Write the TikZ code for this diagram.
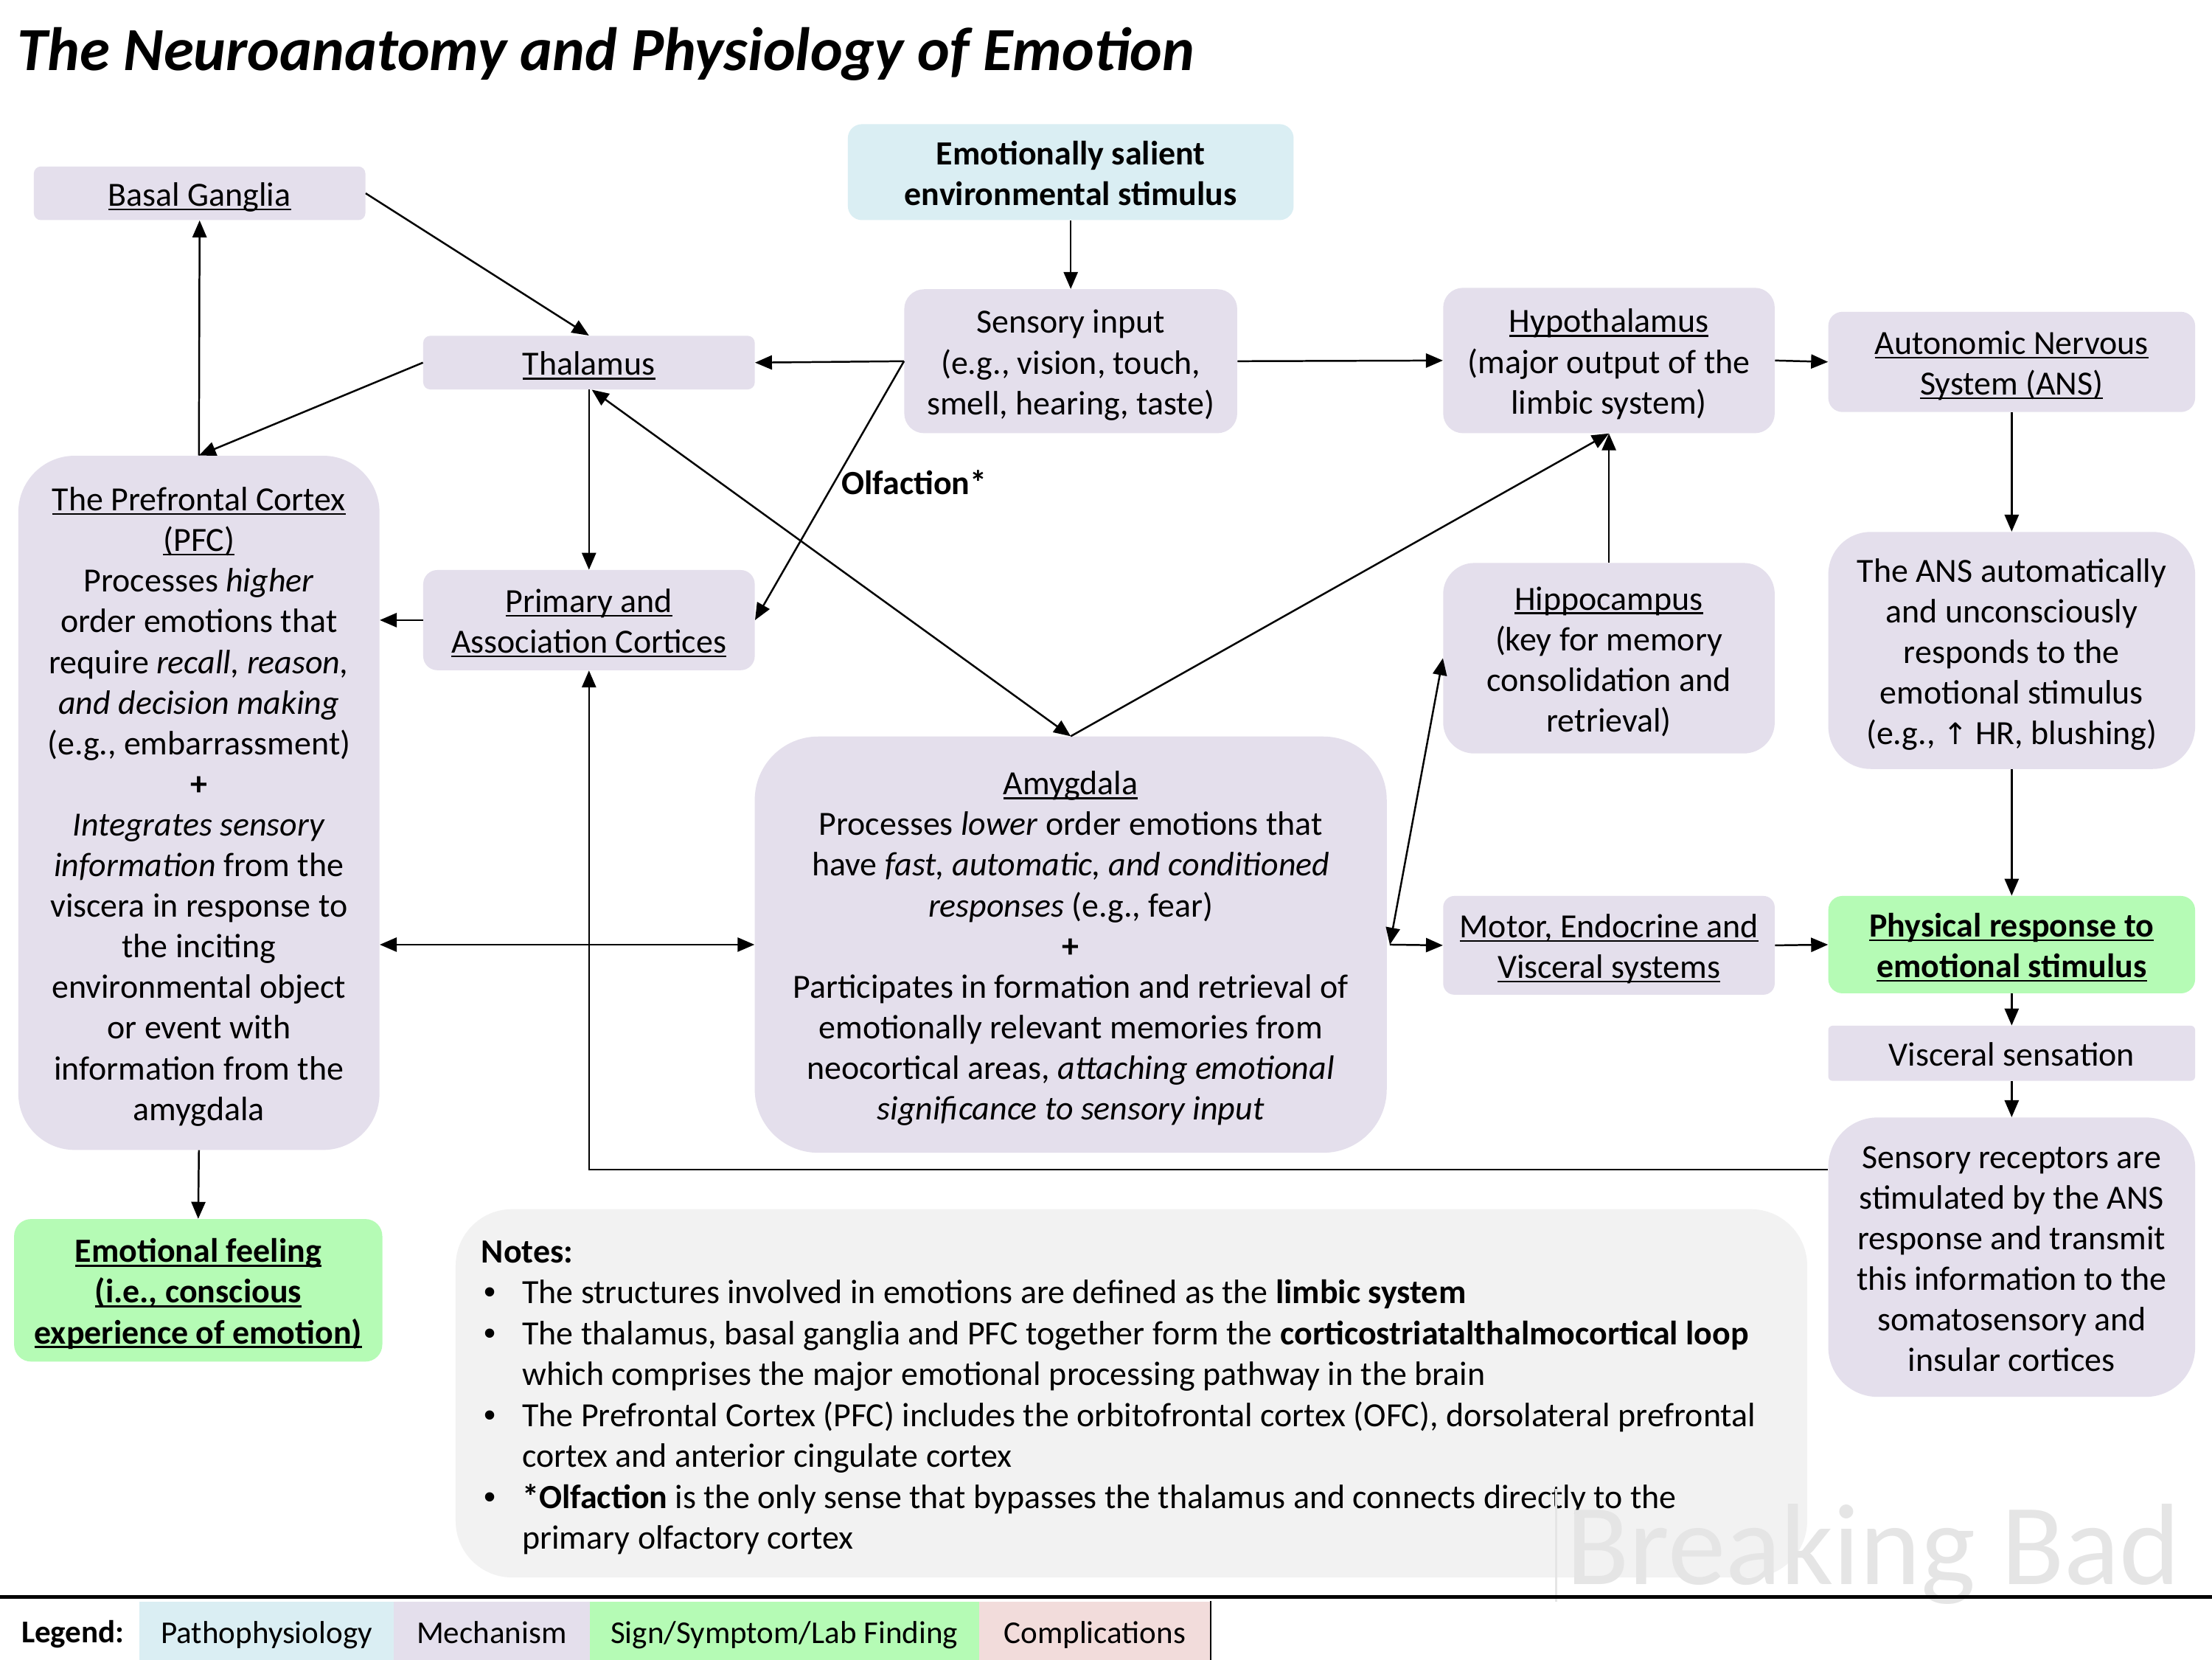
\documentclass[tikz,border=0pt]{standalone}
\usepackage{fontspec}
\setmainfont{Carlito}
\newfontfamily\dejavu{DejaVu Sans}
\newfontfamily\arialf{Liberation Sans}
\usetikzlibrary{arrows.meta}
\definecolor{mech}{HTML}{E4DFEC}
\definecolor{patho}{HTML}{DAEEF3}
\definecolor{sign}{HTML}{B5FBB5}
\definecolor{compl}{HTML}{F2DCDB}
\definecolor{notebg}{HTML}{F2F2F2}
\definecolor{wmark}{HTML}{E5E5E5}
\newsavebox\ulbox
\newcommand\myul[1]{\sbox\ulbox{#1}\rlap{\rule[-3pt]{\wd\ulbox}{1.3pt}}\usebox\ulbox}
\newcommand\fs{\fontsize{24}{28.8}\selectfont}
\newcommand\bul{\makebox[29pt][l]{\hspace{2pt}{\arialf •}}}
\newcommand\fst{\rule{0pt}{25pt}}
\newcommand\lst{\rule[-7pt]{0pt}{7pt}}
\begin{document}
\begin{tikzpicture}[x=1pt,y=-1pt,
  box/.style={fill=mech, align=center, inner sep=0pt, font=\fs},
  arr/.style={line width=1.3pt, -{Triangle[length=12pt,width=10pt]}},
  darr/.style={line width=1.3pt, {Triangle[length=12pt,width=10pt]}-{Triangle[length=12pt,width=10pt]}},
  txt/.style={inner sep=0pt, font=\fs, anchor=base west},
  legcell/.style={minimum width=#1, minimum height=42pt, inner sep=0pt, text height=22pt, text depth=5pt, font=\fontsize{22.5}{27}\selectfont}
]
\useasboundingbox (0,0) rectangle (1568,1176);
\fill[white] (0,0) rectangle (1568,1176);

% title
\node[inner sep=0pt, anchor=base west, font=\fontsize{43.4}{50}\selectfont\bfseries\itshape] (title) at (12,50) {The Neuroanatomy and Physiology of Emotion};

% boxes
\node[box, minimum width=235pt, minimum height=38pt, rounded corners=5pt] (bg) at (141.5,137) {\fst\myul{Basal Ganglia}\lst};
\node[box, fill=patho, minimum width=316pt, minimum height=68pt, rounded corners=10pt, font=\fs\bfseries] (stim) at (759,122) {\fst Emotionally salient\\environmental stimulus\lst};
\node[box, minimum width=235pt, minimum height=38pt, rounded corners=5pt] (thal) at (417.5,257) {\fst\myul{Thalamus}\lst};
\node[box, minimum width=236pt, minimum height=102pt, rounded corners=14pt] (sens) at (759,256) {\fst Sensory input\\(e.g., vision, touch,\\smell, hearing, taste)\lst};
\node[box, minimum width=235pt, minimum height=103pt, rounded corners=14pt] (hypo) at (1140.5,255.5) {\fst\myul{Hypothalamus}\\(major output of the\\limbic system)\lst};
\node[box, minimum width=260pt, minimum height=71pt, rounded corners=10pt] (ans) at (1426,256.5) {\fst\myul{Autonomic Nervous}\\\myul{System (ANS)}\lst};
\node[box, minimum width=256pt, minimum height=492pt, rounded corners=40pt] (pfc) at (141,569) {\fst\myul{The Prefrontal Cortex}\\\myul{(PFC)}\\Processes \textit{higher}\\order emotions that\\require \textit{recall, reason,}\\\textit{and decision making}\\(e.g., embarrassment)\\\textbf{+}\\\textit{Integrates sensory}\\\textit{information} from the\\viscera in response to\\the inciting\\environmental object\\or event with\\information from the\\amygdala\lst};
\node[box, minimum width=235pt, minimum height=71pt, rounded corners=10pt] (cort) at (417.5,439.5) {\fst\myul{Primary and}\\\myul{Association Cortices}\lst};
\node[box, minimum width=235pt, minimum height=135pt, rounded corners=22pt] (hipp) at (1140.5,466.5) {\fst\myul{Hippocampus}\\(key for memory\\consolidation and\\retrieval)\lst};
\node[box, minimum width=260pt, minimum height=168pt, rounded corners=30pt] (ansauto) at (1426,461) {\fst The ANS automatically\\and unconsciously\\responds to the\\emotional stimulus\\(e.g., {\dejavu\fontsize{21}{24}\selectfont ↑} HR, blushing)\lst};
\node[box, minimum width=448pt, minimum height=295pt, rounded corners=45pt] (amyg) at (759,669.5) {\fst\myul{Amygdala}\\Processes \textit{lower} order emotions that\\have \textit{fast, automatic, and conditioned}\\\textit{responses} (e.g., fear)\\\textbf{+}\\Participates in formation and retrieval of\\emotionally relevant memories from\\neocortical areas, \textit{attaching emotional}\\\textit{significance to sensory input}\lst};
\node[box, minimum width=235pt, minimum height=70pt, rounded corners=8pt] (motor) at (1140.5,670) {\fst\myul{Motor, Endocrine and}\\\myul{Visceral systems}\lst};
\node[box, fill=sign, minimum width=260pt, minimum height=69pt, rounded corners=10pt, font=\fs\bfseries] (phys) at (1426,669.5) {\fst\myul{Physical response to}\\\myul{emotional stimulus}\lst};
\node[box, minimum width=260pt, minimum height=39pt, rounded corners=3pt] (visc) at (1426,746.5) {\fst Visceral sensation\lst};
\node[box, minimum width=260pt, minimum height=198pt, rounded corners=35pt] (recep) at (1426,891) {\fst Sensory receptors are\\stimulated by the ANS\\response and transmit\\this information to the\\somatosensory and\\insular cortices\lst};
\node[box, fill=sign, minimum width=261pt, minimum height=101pt, rounded corners=12pt, font=\fs\bfseries] (feel) at (140.5,914.5) {\fst\myul{Emotional feeling}\\\myul{(i.e., conscious}\\\myul{experience of emotion)}\lst};
\node[fill=notebg, minimum width=958pt, minimum height=261pt, rounded corners=40pt, inner sep=0pt] (notes) at (802,987.5) {};

% notes text
\node[txt] (n1) at (341,895) {\textbf{Notes:}};
\node[txt] (n2) at (341,924) {\bul The structures involved in emotions are defined as the \textbf{limbic system}};
\node[txt] (n3) at (341,953) {\bul The thalamus, basal ganglia and PFC together form the \textbf{corticostriatalthalmocortical loop}};
\node[txt] (n4) at (370,982) {which comprises the major emotional processing pathway in the brain};
\node[txt] (n5) at (341,1011) {\bul The Prefrontal Cortex (PFC) includes the orbitofrontal cortex (OFC), dorsolateral prefrontal};
\node[txt] (n6) at (370,1040) {cortex and anterior cingulate cortex};
\node[txt] (n7) at (341,1069) {\bul\textbf{*Olfaction} is the only sense that bypasses the thalamus and connects directly to the};
\node[txt] (n8) at (370,1098) {primary olfactory cortex};

% watermark
\node[inner sep=0pt, anchor=base west, text=wmark, font=\fontsize{82}{90}\selectfont] (wm) at (1110,1123) {Breaking Bad};
\draw[wmark, line width=1.2pt] (1103,1055) -- (1103,1135);

% olfaction label
\node[inner sep=0pt, font=\fs\bfseries] (olf) at (648,342) {Olfaction*};

% connectors
\draw[arr] (stim.south) -- (sens.north);
\draw[arr] (bg.east) -- (thal.north);
\draw[arr] (thal.west) -- (pfc.north);
\draw[arr] (pfc.north) -- (bg.south);
\draw[arr] (sens.west) -- (thal.east);
\draw[arr] (sens.west) -- (cort.east);
\draw[arr] (sens.east) -- (hypo.west);
\draw[arr] (hypo.east) -- (ans.west);
\draw[arr] (thal.south) -- (cort.north);
\draw[darr] ([xshift=2pt]thal.south) -- (amyg.north);
\draw[arr] (amyg.north) -- (hypo.south);
\draw[arr] (hipp.north) -- (hypo.south);
\draw[arr] (cort.west) -- (cort.west -| pfc.east);
\draw[darr] (pfc.east |- amyg.west) -- (amyg.west);
\draw[arr] ([xshift=2pt]amyg.east) -- (motor.west);
\draw[darr] ([xshift=2pt]amyg.east) -- (hipp.west);
\draw[arr] (motor.east) -- (phys.west);
\draw[arr] (ans.south) -- (ansauto.north);
\draw[arr] (ansauto.south) -- (phys.north);
\draw[arr] (phys.south) -- (visc.north);
\draw[arr] (visc.south) -- (recep.north);
\draw[arr] ([yshift=62pt]recep.west) -| (cort.south);
\draw[arr] (pfc.south) -- (feel.north);

% legend
\draw[line width=2.6pt] (0,1132) -- (1568,1132);
\node[inner sep=0pt, anchor=base west, font=\fontsize{22.5}{27}\selectfont\bfseries] (leg) at (15,1164) {Legend:};
\node[legcell=180pt, fill=patho] (l1) at (189,1156) {Pathophysiology};
\node[legcell=139pt, fill=mech] (l2) at (348.5,1156) {Mechanism};
\node[legcell=276pt, fill=sign] (l3) at (556,1156) {Sign/Symptom/Lab Finding};
\node[legcell=164pt, fill=compl] (l4) at (776,1156) {Complications};
\draw[line width=1.5pt] (l4.north east) -- (l4.south east);
\end{tikzpicture}
\end{document}
